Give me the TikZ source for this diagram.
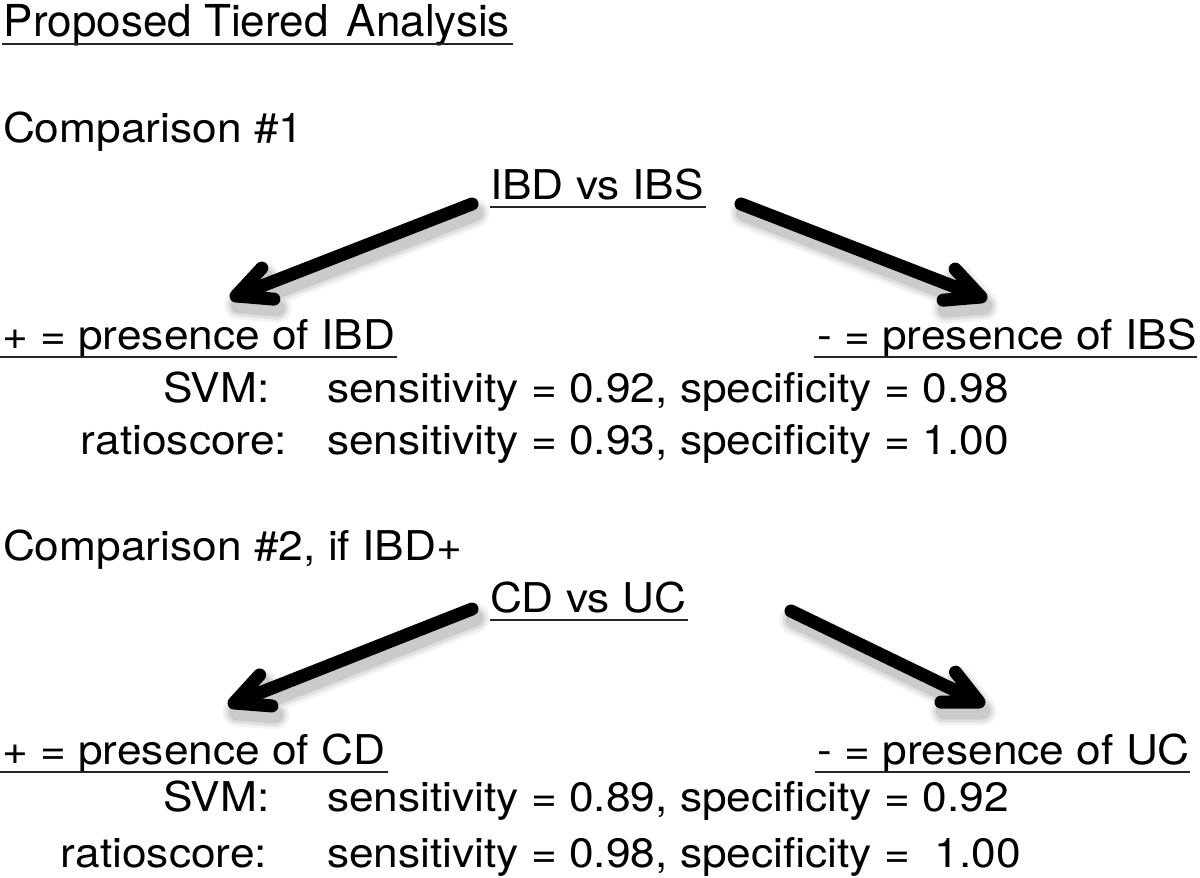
\documentclass[tikz,border=0pt]{standalone}
\usepackage{fontspec}
\setmainfont{TeX Gyre Heros}
\newfontfamily\bodyf[FakeStretch=1.08]{TeX Gyre Heros}
\usetikzlibrary{calc}
\tikzset{
  txt/.style={inner sep=0pt, outer sep=0pt, anchor=base west, font=\bodyf\fontsize{41}{49}\selectfont},
  txtr/.style={txt, anchor=base east},
  ttl/.style={inner sep=0pt, outer sep=0pt, anchor=base west, font=\fontsize{44}{52}\selectfont},
  uline/.style={line width=1.8pt, black!85},
  shaft/.style={line width=13pt, line cap=round, line join=round},
}
\newcommand{\tierarrow}[3]{%
  \coordinate (#1s) at (#2);
  \coordinate (#1t) at (#3);
  \coordinate (#1a) at ($(#1t)!38pt!26:(#1s)$);
  \coordinate (#1b) at ($(#1t)!38pt!-26:(#1s)$);
  \foreach \w/\o in {29/0.05,23/0.07,17/0.09}{
    \draw[shaft, line width=\w pt, black, draw opacity=\o]
      ([shift={(3,9)}]#1s) -- ([shift={(3,9)}]#1t)
      ([shift={(3,9)}]#1a) -- ([shift={(3,9)}]#1t) -- ([shift={(3,9)}]#1b);
  }
  \draw[shaft] (#1s) -- (#1t) (#1a) -- (#1t) -- (#1b);
}
\begin{document}
\begin{tikzpicture}[x=1pt, y=-1pt]
\useasboundingbox[fill=white] (0,0) rectangle (1200,878);

% title
\node[ttl] (title) at (4,36) {Proposed Tiered\hspace{6pt} Analysis};
\draw[uline] (2,44) -- ([xshift=3pt]title.base east |- 0,44);

% comparison 1
\node[txt] (c1) at (3,142) {Comparison \#1};
\node[txt] (q1) at (490,199) {IBD vs IBS};
\draw[uline] ([yshift=-8pt]q1.base west) -- ([yshift=-8pt,xshift=2pt]q1.base east);

\tierarrow{al}{472,204}{236,296}
\tierarrow{ar}{741,204}{981,297}

\node[txt] (p1) at (2,349) {+ = presence of IBD};
\draw[uline] ([yshift=-8pt,xshift=-2pt]p1.base west) -- ([yshift=-8pt,xshift=2pt]p1.base east);
\node[txtr] (n1) at (1197,349) {- = presence of IBS};
\draw[uline] ([yshift=-8pt,xshift=-3pt]n1.base west) -- ([yshift=-8pt]n1.base east);

\node[txt] (svm1) at (163,402) {SVM:};
\node[txt] (svm1v) at (327,402) {sensitivity = 0.92, specificity = 0.98};
\node[txtr] (rs1) at (287,454) {ratioscore:};
\node[txt] (rs1v) at (327,454) {sensitivity = 0.93, specificity = 1.00};

% comparison 2
\node[txt] (c2) at (3,560) {Comparison \#2, if IBD+};
\node[txt] (q2) at (490,612) {CD vs UC};
\draw[uline] ([yshift=-8pt]q2.base west) -- ([yshift=-8pt,xshift=2pt]q2.base east);

\tierarrow{bl}{472,609}{234,703}
\tierarrow{br}{791,611}{979,702}

\node[txt] (p2) at (2,764) {+ = presence of CD};
\draw[uline] ([yshift=-8pt,xshift=-2pt]p2.base west) -- ([yshift=-8pt,xshift=2pt]p2.base east);
\node[txtr] (n2) at (1190,764) {- = presence of UC};
\draw[uline] ([yshift=-8pt,xshift=-3pt]n2.base west) -- ([yshift=-8pt]n2.base east);

\node[txt] (svm2) at (163,811) {SVM:};
\node[txt] (svm2v) at (327,811) {sensitivity = 0.89, specificity = 0.92};
\node[txtr] (rs2) at (267,867) {ratioscore:};
\node[txt] (rs2v) at (327,867) {sensitivity = 0.98, specificity = \ 1.00};
\end{tikzpicture}
\end{document}
